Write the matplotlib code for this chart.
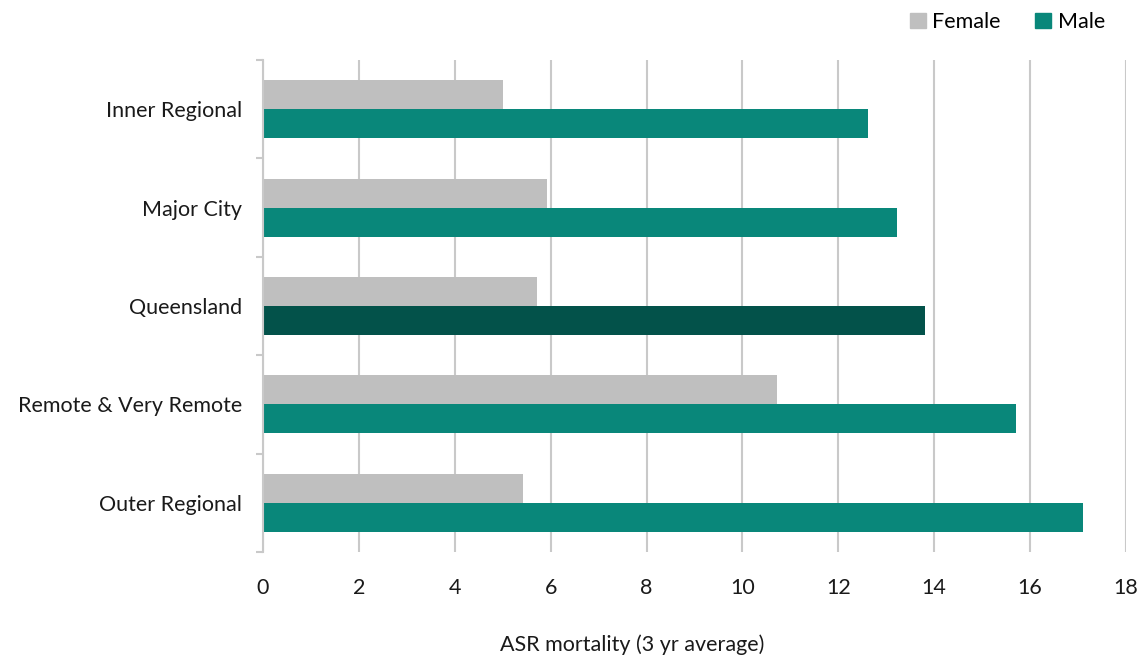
import numpy as np
import matplotlib.pyplot as plt
from matplotlib.patches import Patch

plt.rcParams['font.family'] = ['Lato', 'DejaVu Sans']

# Data
regions = ['Inner Regional', 'Major City', 'Queensland', 'Remote & Very Remote', 'Outer Regional']
female = [5.0, 5.92, 5.72, 10.72, 5.42]
male = [12.62, 13.22, 13.81, 15.71, 17.1]

female_color = '#BFBFBF'
male_color = '#09877A'
qld_male_color = '#03524A'
grid_color = '#C9C9C9'
fs = 15.5

fig = plt.figure(figsize=(11.46, 6.62), dpi=100)
ax = fig.add_axes([263 / 1146, 1 - 552 / 662, (1126 - 263) / 1146, (552 - 60) / 662])

y = np.arange(len(regions))
h = 0.295
male_colors = [qld_male_color if r == 'Queensland' else male_color for r in regions]
ax.barh(y - h / 2, female, height=h, color=female_color, zorder=3)
ax.barh(y + h / 2, male, height=h, color=male_colors, zorder=3)

ax.set_xlim(0, 18)
ax.set_ylim(len(regions) - 0.5, -0.5)
ax.set_xticks(np.arange(0, 19, 2))
ax.set_yticks(y)
ax.set_yticklabels(regions)
ax.set_yticks(np.arange(-0.5, len(regions)), minor=True)
ax.tick_params(axis='y', which='major', length=0, pad=15, labelsize=fs, labelcolor='#1a1a1a')
ax.tick_params(axis='y', which='minor', length=5, width=1.5, color=grid_color)
ax.tick_params(axis='x', length=0, pad=19, labelsize=fs, labelcolor='#1a1a1a')

ax.grid(axis='x', color=grid_color, linewidth=1.5, zorder=0)
for s in ['top', 'right', 'bottom']:
    ax.spines[s].set_visible(False)
ax.spines['left'].set_color(grid_color)
ax.spines['left'].set_linewidth(1.5)
ax.spines['left'].set_zorder(4)

fig.text(632 / 1146, 1 - 645 / 662, 'ASR mortality (3 yr average)', ha='center', va='center',
         fontsize=fs, color='#1a1a1a')

handles = [Patch(color=female_color, label='Female'), Patch(color=male_color, label='Male')]
fig.legend(handles=handles, loc='center right', bbox_to_anchor=(1105 / 1146, 1 - 22 / 662),
           ncol=2, frameon=False, fontsize=fs, handlelength=0.75, handleheight=0.75,
           handletextpad=0.3, columnspacing=1.6, borderpad=0, borderaxespad=0)

fig.savefig('out.png', dpi=100)
